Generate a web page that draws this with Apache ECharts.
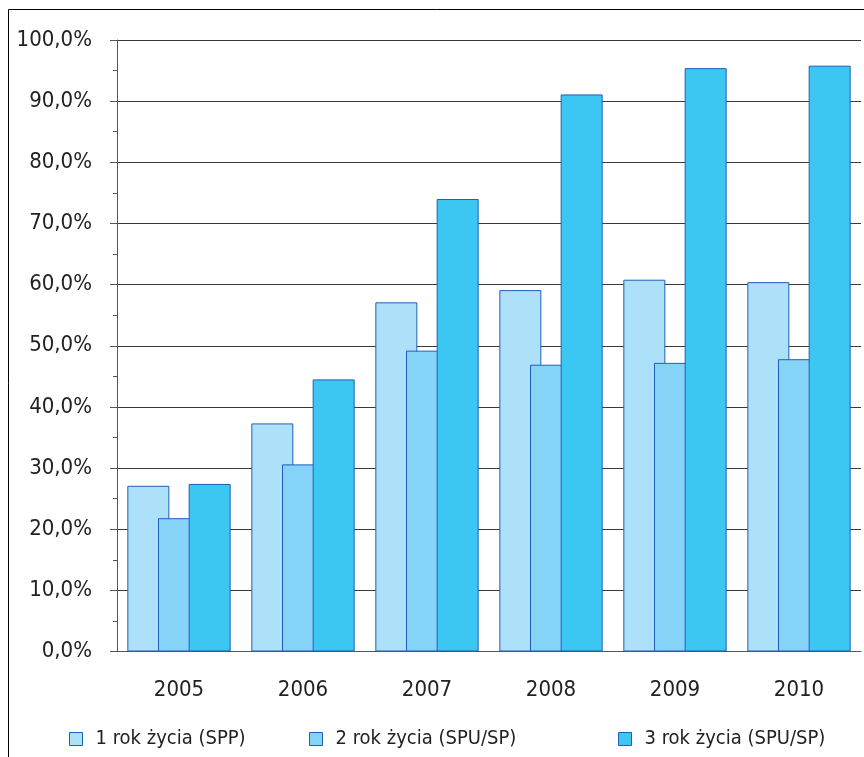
<!DOCTYPE html>
<html>
<head>
<meta charset="utf-8">
<script src="https://cdn.jsdelivr.net/npm/echarts@6/dist/echarts.min.js"></script>
<style>
  html, body { margin: 0; padding: 0; background: #fff; }
  #main { width: 864px; height: 757px; }
</style>
</head>
<body>
<div id="main"></div>
<script>
// dane
var years = ['2005', '2006', '2007', '2008', '2009', '2010'];
var rok1 = [27.1, 37.3, 57.1, 59.1, 60.8, 60.4];
var rok2 = [21.8, 30.6, 49.2, 46.9, 47.2, 47.8];
var rok3 = [27.4, 44.5, 74.0, 91.1, 95.4, 95.8];
var names = ['1 rok życia (SPP)', '2 rok życia (SPU/SP)', '3 rok życia (SPU/SP)'];
var colors = ['#ADE0F9', '#85D3F6', '#3CC6F2'];

var font = "'Liberation Sans Narrow', 'DejaVu Sans Condensed', 'Liberation Sans', sans-serif";
var myChart = echarts.init(document.getElementById('main'));

function bar(name, data, color) {
  return {
    name: name,
    type: 'bar',
    data: data,
    barWidth: 42,
    barGap: '-27%',
    itemStyle: { color: color, borderColor: '#1F5FB8', borderWidth: 1 },
    emphasis: { disabled: true }
  };
}

function leg(name, left) {
  return {
    data: [name],
    left: left,
    top: 724,
    itemWidth: 13,
    itemHeight: 13,
    icon: 'rect',
    itemStyle: { borderColor: '#1F5FB8', borderWidth: 1 },
    textStyle: { fontFamily: font, fontSize: 20, color: '#222', padding: [0, 0, 0, 8] },
    selectedMode: false
  };
}

myChart.setOption({
  animation: false,
  textStyle: { fontFamily: font },
  graphic: [{
    type: 'rect',
    shape: { x: 8.5, y: 9.5, width: 900, height: 800 },
    style: { fill: 'none', stroke: '#000', lineWidth: 1 },
    silent: true
  }],
  legend: [leg(names[0], 64), leg(names[1], 304), leg(names[2], 613)],
  grid: { left: 117, top: 40, right: 3, bottom: 105.5, containLabel: false },
  xAxis: {
    type: 'category',
    data: years,
    axisLine: { lineStyle: { color: '#555', width: 1 } },
    axisTick: { length: 7, lineStyle: { color: '#555' } },
    axisLabel: { fontFamily: font, fontSize: 22, color: '#222', margin: 28 }
  },
  yAxis: {
    type: 'value',
    min: 0,
    max: 100,
    interval: 10,
    axisLine: { show: true, lineStyle: { color: '#555', width: 1 } },
    axisTick: { show: true, length: 7, lineStyle: { color: '#555' } },
    minorTick: { show: true, splitNumber: 2, length: 4, lineStyle: { color: '#555' } },
    splitLine: { lineStyle: { color: '#3a3a3a', width: 1 } },
    axisLabel: {
      fontFamily: font, fontSize: 22, color: '#222', margin: 25,
      formatter: function (v) { return v.toFixed(1).replace('.', ',') + '%'; }
    }
  },
  series: [
    bar(names[0], rok1, colors[0]),
    bar(names[1], rok2, colors[1]),
    bar(names[2], rok3, colors[2])
  ]
});
</script>
</body>
</html>
